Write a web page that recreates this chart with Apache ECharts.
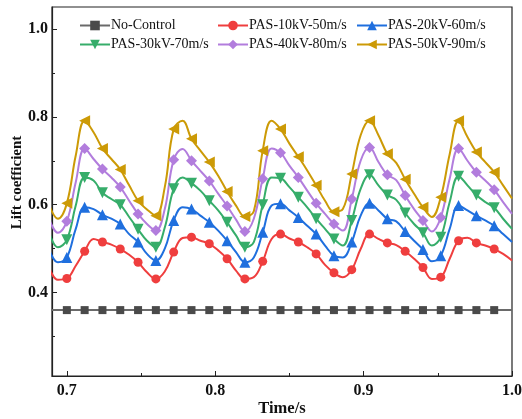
<!DOCTYPE html>
<html>
<head>
<meta charset="utf-8">
<script src="https://cdn.jsdelivr.net/npm/echarts@6/dist/echarts.min.js"></script>
<style>
  html, body { margin: 0; padding: 0; background: #fff; }
  #chart { width: 522px; height: 419px; }
</style>
</head>
<body>
<div id="chart"></div>
<script>
// Sample times (s); a marker is drawn on every second sample.
const time = [0.688, 0.694, 0.700, 0.706, 0.712, 0.718, 0.724, 0.730, 0.736, 0.742,
  0.748, 0.754, 0.760, 0.766, 0.772, 0.778, 0.784, 0.790, 0.796, 0.802,
  0.808, 0.814, 0.820, 0.826, 0.832, 0.838, 0.844, 0.850, 0.856, 0.862,
  0.868, 0.874, 0.880, 0.886, 0.892, 0.898, 0.904, 0.910, 0.916, 0.922,
  0.928, 0.934, 0.940, 0.946, 0.952, 0.958, 0.964, 0.970, 0.976, 0.982,
  0.988, 0.994, 1.000];

const noControl = [0.36, 0.36, 0.36, 0.36, 0.36, 0.36, 0.36, 0.36, 0.36, 0.36,
  0.36, 0.36, 0.36, 0.36, 0.36, 0.36, 0.36, 0.36, 0.36, 0.36,
  0.36, 0.36, 0.36, 0.36, 0.36, 0.36, 0.36, 0.36, 0.36, 0.36,
  0.36, 0.36, 0.36, 0.36, 0.36, 0.36, 0.36, 0.36, 0.36, 0.36,
  0.36, 0.36, 0.36, 0.36, 0.36, 0.36, 0.36, 0.36, 0.36, 0.36,
  0.36, 0.36, 0.36];

const pas10 = [0.458, 0.429, 0.432, 0.461, 0.494, 0.522, 0.515, 0.509, 0.499, 0.486,
  0.469, 0.446, 0.431, 0.448, 0.492, 0.524, 0.526, 0.518, 0.511, 0.496,
  0.477, 0.450, 0.431, 0.435, 0.471, 0.522, 0.533, 0.523, 0.515, 0.503,
  0.488, 0.463, 0.445, 0.435, 0.452, 0.499, 0.533, 0.522, 0.513, 0.508,
  0.494, 0.477, 0.457, 0.431, 0.435, 0.477, 0.518, 0.525, 0.513, 0.507,
  0.499, 0.488, 0.473];

const pas20 = [0.499, 0.469, 0.480, 0.545, 0.594, 0.590, 0.577, 0.568, 0.556, 0.533,
  0.515, 0.488, 0.473, 0.500, 0.564, 0.594, 0.590, 0.575, 0.560, 0.541,
  0.518, 0.492, 0.469, 0.480, 0.537, 0.598, 0.602, 0.587, 0.571, 0.552,
  0.533, 0.507, 0.484, 0.480, 0.515, 0.575, 0.603, 0.587, 0.568, 0.562,
  0.539, 0.518, 0.498, 0.471, 0.484, 0.545, 0.598, 0.587, 0.575, 0.564,
  0.552, 0.533, 0.515];

const pas30 = [0.537, 0.503, 0.520, 0.598, 0.662, 0.655, 0.627, 0.613, 0.600, 0.572,
  0.544, 0.518, 0.503, 0.548, 0.636, 0.662, 0.649, 0.632, 0.609, 0.587,
  0.560, 0.530, 0.503, 0.515, 0.600, 0.662, 0.660, 0.640, 0.617, 0.594,
  0.568, 0.545, 0.522, 0.507, 0.564, 0.636, 0.668, 0.644, 0.622, 0.611,
  0.581, 0.556, 0.536, 0.507, 0.526, 0.606, 0.665, 0.644, 0.622, 0.606,
  0.593, 0.568, 0.545];

const pas40 = [0.568, 0.536, 0.562, 0.651, 0.728, 0.704, 0.681, 0.662, 0.640, 0.609,
  0.579, 0.556, 0.541, 0.590, 0.702, 0.727, 0.700, 0.677, 0.654, 0.625,
  0.597, 0.566, 0.539, 0.568, 0.659, 0.728, 0.718, 0.689, 0.662, 0.632,
  0.603, 0.579, 0.556, 0.541, 0.613, 0.700, 0.730, 0.697, 0.668, 0.656,
  0.621, 0.590, 0.564, 0.539, 0.571, 0.659, 0.728, 0.700, 0.674, 0.655,
  0.634, 0.606, 0.579];

const pas50 = [0.600, 0.568, 0.603, 0.712, 0.791, 0.765, 0.728, 0.704, 0.680, 0.644,
  0.609, 0.589, 0.575, 0.640, 0.772, 0.791, 0.750, 0.723, 0.697, 0.666,
  0.630, 0.598, 0.573, 0.585, 0.723, 0.791, 0.772, 0.739, 0.709, 0.678,
  0.644, 0.609, 0.584, 0.590, 0.670, 0.758, 0.791, 0.758, 0.716, 0.695,
  0.658, 0.625, 0.594, 0.572, 0.617, 0.715, 0.791, 0.754, 0.720, 0.697,
  0.674, 0.644, 0.614];

const xMajorTicks = [0.7, 0.8, 0.9, 1.0];
const xMinorTicks = [0.75, 0.85, 0.95];
const yMajorTicks = [0.4, 0.6, 0.8, 1.0];
const yMinorTicks = [0.3, 0.5, 0.7, 0.9];

const serif = '"Liberation Serif", "Times New Roman", serif';

// Pair each value with its time; only every second sample carries a marker.
function pointsOf(values) {
  return time.map((t, i) => {
    const item = { value: [t, values[i]] };
    if (i % 2 === 1 || i === time.length - 1) item.symbol = 'none';
    return item;
  });
}

function curve(name, values, color, symbol, size, rotate) {
  return {
    name: name,
    type: 'line',
    data: pointsOf(values),
    smooth: 0.4,
    showAllSymbol: true,
    symbol: symbol,
    symbolSize: size,
    symbolRotate: rotate || 0,
    itemStyle: { color: color },
    lineStyle: { color: color, width: 2 },
    emphasis: { disabled: true },
    animation: false
  };
}

function legendColumn(left, names) {
  return {
    orient: 'vertical',
    left: left,
    top: 18.5,
    padding: 0,
    itemWidth: 30,
    itemHeight: 12,
    itemGap: 5,
    symbolRotate: 'inherit',
    data: names,
    textStyle: { fontFamily: serif, fontSize: 14, color: '#111', padding: [0, 0, 0, -4] }
  };
}

const chart = echarts.init(document.getElementById('chart'), null, { renderer: 'canvas' });

chart.setOption({
  backgroundColor: '#fff',
  animation: false,
  grid: {
    left: 52, right: 10, top: 7, bottom: 43,
    outerBoundsMode: 'none', containLabel: false,
    show: true, borderColor: '#222', borderWidth: 1.2, backgroundColor: 'transparent'
  },
  legend: [
    legendColumn(79, ['No-Control', 'PAS-30kV-70m/s']),
    legendColumn(217, ['PAS-10kV-50m/s', 'PAS-40kV-80m/s']),
    legendColumn(356, ['PAS-20kV-60m/s', 'PAS-50kV-90m/s'])
  ],
  xAxis: [
    {
      type: 'value', min: 0.69, max: 1.0, position: 'bottom',
      axisLine: { lineStyle: { color: '#222', width: 1.2 } },
      axisTick: { inside: true, length: 5, customValues: xMajorTicks, lineStyle: { color: '#222' } },
      axisLabel: {
        customValues: xMajorTicks, formatter: v => v.toFixed(1),
        fontFamily: serif, fontWeight: 'bold', fontSize: 16, color: '#111', margin: 7
      },
      splitLine: { show: false },
      name: 'Time/s', nameLocation: 'middle', nameGap: 24, nameMoveOverlap: false,
      nameTextStyle: { fontFamily: serif, fontWeight: 'bold', fontSize: 16.5, color: '#111' }
    },
    {
      type: 'value', min: 0.69, max: 1.0, position: 'bottom',
      axisLine: { show: false },
      axisTick: { inside: true, length: 3, customValues: xMinorTicks, lineStyle: { color: '#222' } },
      axisLabel: { show: false },
      splitLine: { show: false }
    }
  ],
  yAxis: [
    {
      type: 'value', min: 0.21, max: 1.05, position: 'left',
      axisLine: { show: true, lineStyle: { color: '#222', width: 1.2 } },
      axisTick: { show: true, inside: true, length: 5, customValues: yMajorTicks, lineStyle: { color: '#222' } },
      axisLabel: {
        customValues: yMajorTicks, formatter: v => v.toFixed(1),
        fontFamily: serif, fontWeight: 'bold', fontSize: 16, color: '#111', margin: 4
      },
      splitLine: { show: false },
      name: 'Lift coefficient', nameLocation: 'middle', nameGap: 27, nameMoveOverlap: false,
      nameTextStyle: { fontFamily: serif, fontWeight: 'bold', fontSize: 15, color: '#111', padding: [0, 0, 0, 18] }
    },
    {
      type: 'value', min: 0.21, max: 1.05, position: 'left',
      axisLine: { show: false },
      axisTick: { show: true, inside: true, length: 3, customValues: yMinorTicks, lineStyle: { color: '#222' } },
      axisLabel: { show: false },
      splitLine: { show: false }
    }
  ],
  series: [
    {
      name: 'No-Control', type: 'line', data: pointsOf(noControl),
      showAllSymbol: true, symbol: 'rect', symbolSize: 8,
      itemStyle: { color: '#4a4a4a' },
      lineStyle: { color: '#6a6a6a', width: 2 },
      emphasis: { disabled: true }, animation: false
    },
    curve('PAS-10kV-50m/s', pas10, '#ef3e3e', 'circle', 9),
    curve('PAS-20kV-60m/s', pas20, '#1f6fde', 'triangle', 11),
    curve('PAS-30kV-70m/s', pas30, '#36ad6a', 'triangle', 11, 180),
    curve('PAS-40kV-80m/s', pas40, '#b27ddd', 'diamond', 11),
    curve('PAS-50kV-90m/s', pas50, '#cc9a06', 'triangle', 11, 90)
  ]
});
</script>
</body>
</html>
